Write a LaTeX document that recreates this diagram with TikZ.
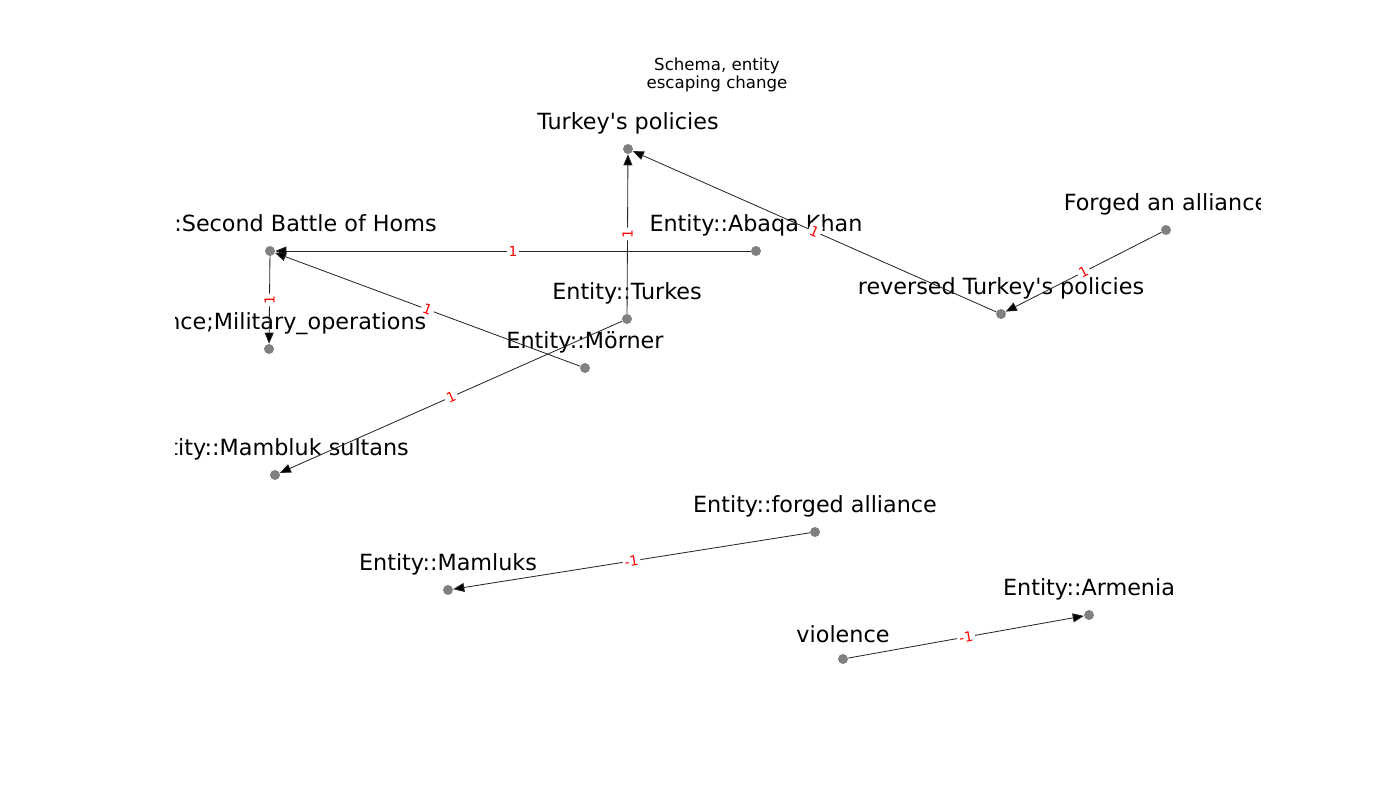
\documentclass[tikz,border=0pt]{standalone}
\usepackage{fontspec}
\setmainfont{DejaVu Sans}
\usetikzlibrary{arrows.meta}

\begin{document}
\begin{tikzpicture}[x=0.01in,y=-0.01in,
 ent/.style={circle,fill=gray,minimum size=7.2pt,inner sep=0pt},
 lbl/.style={font=\fontsize{16.1}{18}\selectfont,inner sep=0pt,anchor=center,label distance=0.2in},
 rel/.style={draw=black!85,line width=0.6pt,-{Triangle[length=8pt,width=6.5pt]}},
 wt/.style={font=\fontsize{10}{12}\selectfont,text=red,fill=white,inner sep=1.5pt,sloped,midway}]

\useasboundingbox (0,0) rectangle (1400,800);

\node [font=\fontsize{12}{12.5}\selectfont,align=center] (title) at (717,75) {Schema, entity\\escaping change};

\begin{scope}
 \clip (175,96) rectangle (1260,712);

 \node [ent,label={[lbl]90:Turkey\textquotesingle s policies}] (tpol) at (628,149) {};
 \node [ent,label={[lbl]90:Entity::Second Battle of Homs}] (homs) at (270,251) {};
 \node [ent,label={[lbl]90:Entity::Abaqa Khan}] (abaqa) at (756,251) {};
 \node [ent,label={[lbl]90:Violence;Military\_operations}] (milop) at (269,349) {};
 \node [ent,label={[lbl]90:Entity::Turkes}] (turkes) at (627,319) {};
 \node [ent,label={[lbl]90:Entity::Mörner}] (morner) at (585,368) {};
 \node [ent,label={[lbl]90:Forged an alliance}] (forged) at (1166,230) {};
 \node [ent,label={[lbl]90:reversed Turkey\textquotesingle s policies}] (revtp) at (1001,314) {};
 \node [ent,label={[lbl]90:Entity::Mambluk sultans}] (mambluk) at (275,475) {};
 \node [ent,label={[lbl]90:Entity::forged alliance}] (falli) at (815,532) {};
 \node [ent,label={[lbl]90:Entity::Mamluks}] (mamluks) at (448,590) {};
 \node [ent,label={[lbl]90:violence}] (viol) at (843,659) {};
 \node [ent,label={[lbl]90:Entity::Armenia}] (armenia) at (1089,615) {};

 \draw [rel] (abaqa) edge node [wt] {1} (homs);
 \draw [rel] (homs) edge node [wt] {1} (milop);
 \draw [rel] (morner) edge node [wt] {1} (homs);
 \draw [rel] (turkes) edge node [wt] {1} (tpol);
 \draw [rel] (revtp) edge node [wt] {1} (tpol);
 \draw [rel] (forged) edge node [wt] {1} (revtp);
 \draw [rel] (turkes) edge node [wt] {1} (mambluk);
 \draw [rel] (falli) edge node [wt] {-1} (mamluks);
 \draw [rel] (viol) edge node [wt] {-1} (armenia);
\end{scope}

\end{tikzpicture}
\end{document}
